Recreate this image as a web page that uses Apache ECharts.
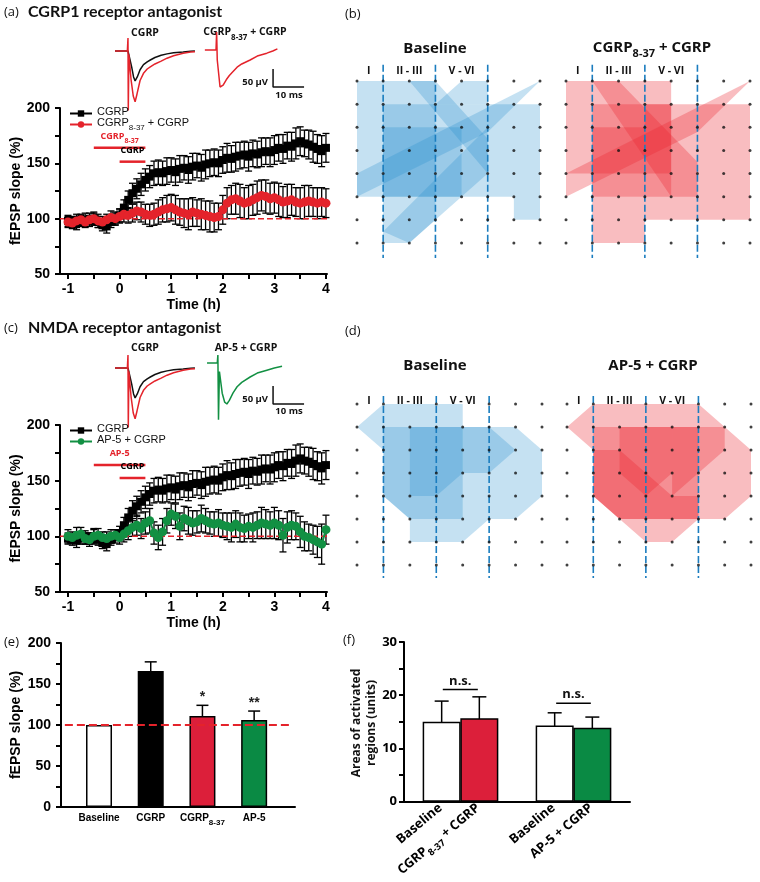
<!DOCTYPE html>
<html><head><meta charset="utf-8">
<script src="https://cdn.jsdelivr.net/npm/echarts@6/dist/echarts.min.js"></script>
<style>html,body{margin:0;padding:0;background:#fff}#c{width:760px;height:882px}</style>
</head><body><div id="c"></div>
<script>
// ---------------- DATA ----------------
const timeMin = [-60,-55,-50,-45,-40,-35,-30,-25,-20,-15,-10,-5,0,5,10,15,20,25,30,35,40,45,50,55,60,65,70,75,80,85,90,95,100,105,110,115,120,125,130,135,140,145,150,155,160,165,170,175,180,185,190,195,200,205,210,215,220,225,230,235,240];
const cgrpMean = [98,97,96,98,99,98,100,97,94,93,97,100,
  103,110,117,123,127,131,135,138,141,142,141,143,
  144,142,145,146,144,147,148,146,149,150,151,150,
  153,155,154,156,157,158,156,159,158,160,161,160,
  162,164,163,166,165,168,170,168,167,165,163,161,
  164];
const cgrpSem = [5,5,6,5,6,5,6,5,5,6,5,6,
  6,7,8,9,9,10,10,10,11,11,11,12,
  11,12,12,11,12,12,11,12,13,12,12,12,
  12,13,12,13,12,12,13,12,12,13,12,13,
  13,12,13,12,13,14,13,12,13,14,13,14,
  13];
const cgrp837Mean = [97,96,98,99,97,99,100,98,97,99,101,100,
  102,104,103,105,107,106,104,103,104,106,108,109,
  110,108,106,105,104,106,105,104,103,102,101,102,
  108,114,117,118,116,114,115,117,119,121,120,118,
  119,117,115,116,117,115,114,115,116,115,114,115,
  114];
const cgrp837Sem = [5,5,6,5,5,6,5,6,5,5,6,5,
  6,7,7,8,8,9,9,10,10,11,11,12,
  12,13,12,13,14,13,12,14,13,14,13,12,
  13,14,13,14,15,14,15,14,15,14,15,14,
  14,15,14,15,14,13,14,15,14,13,14,13,
  13];
const ap5Mean = [100,99,101,102,98,97,100,101,99,98,100,101,
  99,102,105,108,110,107,112,114,103,99,104,114,
  120,118,109,116,114,112,113,116,114,112,111,112,
  110,109,108,111,108,107,109,108,110,112,111,110,
  112,110,101,108,110,109,104,100,99,97,95,93,
  106];
const ap5Sem = [6,5,7,6,5,6,7,6,5,6,6,5,
  6,7,8,8,9,9,10,11,10,11,12,11,
  10,11,12,11,12,11,10,12,11,10,11,12,
  11,12,13,12,13,12,11,13,12,14,13,12,
  14,13,15,14,13,12,14,13,12,13,14,18,
  13];
const xTickValues = [-1,-0.5,0,0.5,1,1.5,2,2.5,3,3.5,4];
const xLabelValues = [-1,0,1,2,3,4];
const refLevel = [[-1.155,100],[4.05,100]];
// drug application bars: [start h, end h, level %]
const appBarsA = [[-0.5,0.5,164],[0,0.5,151.5]];
const appLabelsA = ['CGRP8-37','CGRP'];
const appBarsC = [[-0.5,0.5,164],[0,0.5,152.4]];
const appLabelsC = ['AP-5','CGRP'];

// EPSP traces: [ms, µV]
const traceCgrpBlack = [[1.6,0],[5.8,0],[6.3,-5],[7.0,-45],[7.6,-72],[8.1,-83],[8.8,-72],[9.7,-52],[10.8,-38],[12,-30],[13,-25],[14.5,-18],[16.5,-12],[18.4,-8],[20.5,-5],[23.6,-3],[26,-1],[27.4,0]];
const traceCgrpRed = [[1.6,0],[5.6,0],[5.8,36],[5.9,-165],[6.1,-10],[6.8,-80],[7.5,-125],[8.1,-141],[8.7,-120],[9.7,-82],[10.8,-62],[12,-50],[13,-44],[14.5,-36],[16.5,-28],[18.4,-20],[20.5,-13],[23.6,-6],[26,-3],[27.4,-2]];
const traceCgrp837 = [[30.6,3],[34.2,3],[34.4,53],[34.6,-25],[34.9,-20],[35.5,-100],[36.5,-95],[37.5,-80],[38.5,-68],[39.7,-57],[41,-45],[42.5,-36],[45.2,-25],[47.5,-14],[50.6,-6],[52.5,0],[54,6]];
const traceAp5 = [[31.3,14],[34.6,14],[34.8,36],[35.0,-144],[35.3,-10],[36.2,-70],[37,-95],[37.7,-100],[38.5,-90],[39.7,-69],[41,-52],[42.5,-40],[45.2,-25],[47.5,-14],[50.6,-6],[53,0],[55.5,5]];
const scaleBar = [[52.6,-50],[52.6,-100],[62.6,-100]];

// activation maps: electrode grid and activated regions [col,row]
const electrodeCols = [0,1,2,3,4,5,6,7];
const electrodeRows = [0,1,2,3,4,5,6,7];
const layerBorders = [1,3,5];
const layerNames = [[0.45,'I'],[2,'II - III'],[4,'V - VI']];
const mapBBaseline = [
  [[0,0],[3,0],[3,5],[0,5]],
  [[1,1],[5,1],[5,5],[1,5]],
  [[1,2],[4,2],[4,5],[1,5]],
  [[5,1],[7,1],[7,6],[6,6],[6,5],[5,5]],
  [[1,5],[3,5],[3,6],[2,7],[1,7]],
  [[0,4],[7,0],[5,2.2],[0,5]],
  [[1,6.5],[5,2],[5,4],[2,7]],
  [[2,0],[3,0],[5,2.5],[5,4]],
  [[3,1],[4,0],[5,0],[5,1]]
];
const mapBCgrp837 = [
  [[0,0],[4,0],[4,4],[0,4]],
  [[3,1],[7,1],[7,6],[3,6]],
  [[1,1],[4,1],[4,5],[1,5]],
  [[1,2],[3,2],[3,5],[1,5]],
  [[1,5],[3,5],[3,7],[1,7]],
  [[0,4],[7,0],[5,2.2],[0,5]],
  [[1,0],[2,0],[5,3.5],[5,5],[4,5]]
];
const mapDBaseline = [
  [[0,1],[1,0],[4,0],[4,5],[2,5],[1,4],[1,2]],
  [[1,1],[4,1],[4,5],[2,5],[1,4]],
  [[2,1],[4,1],[4,3],[3,4],[2,4]],
  [[4,1],[6,1],[7,2],[7,4],[6,5],[4,5]],
  [[4,1],[5,1],[6,2],[5,3],[4,3]],
  [[2,5],[5,5],[4,6],[2,6]]
];
const mapDAp5 = [
  [[0,1],[1,0],[5,0],[7,2],[7,4],[6,5],[5,5],[4,6],[3,6],[1,4],[1,2]],
  [[1,1],[5,1],[5,5],[2,5],[1,4]],
  [[2,1],[4,1],[4,3],[3,4],[2,3]],
  [[4,1],[6,1],[6,2],[4,4]],
  [[1,2],[2,2],[4,4],[5,4],[5,5],[2,5],[1,4]]
];

// panel e
const eCats = ['Baseline','CGRP','CGRP8-37','AP-5'];
const eMeans = [100,166,111,106];
const eSem = [0,11,13,11];
const eStars = ['','','*','**'];
// panel f
const fCats = ['Baseline','CGRP8-37 + CGRP','Baseline','AP-5 + CGRP'];
const fPos = [0,1,3,4];
const fMeans = [15.0,15.7,14.3,13.9];
const fSem = [3.9,4.0,2.4,2.0];
const fNs = [[0.03,0.96,21.1],[3.04,3.96,18.5]];

// ---------------- STYLE ----------------
const NUM = '"Liberation Sans", Arial, sans-serif';
const OS = '"Open Sans", sans-serif';
const RED = '#e4232b', GREEN = '#129043', BLK = '#000';
const BAR_COL = ['#ffffff','#000000','#dc1f3a','#0a8a44'];
const F_COL = ['#ffffff','#dc1f3a','#ffffff','#0a8a44'];
const BLUE_FILL = 'rgba(30,140,205,0.26)';
const RED_FILL = 'rgba(235,35,45,0.30)';

function subRich(base, sub, weight, family, color) {
  return {t:{fontSize:base, fontWeight:weight, fontFamily:family, color:color, fill:color, lineHeight:base+4, verticalAlign:'top'},
          s:{fontSize:sub, fontWeight:weight, fontFamily:family, color:color, fill:color, lineHeight:sub, verticalAlign:'bottom'}};
}
function subText(name) {
  if (name.indexOf('CGRP8-37') === 0) return '{t|CGRP}{s|8-37}' + (name.length > 8 ? '{t|' + name.slice(8) + '}' : '');
  return '{t|' + name + '}';
}

const grids = [
  {left:60, top:108, width:267, height:166},
  {left:110, top:30, width:201.5, height:100},
  {left:60, top:425, width:267, height:167},
  {left:110, top:347, width:201.5, height:100},
  {left:357, top:81, width:183, height:162},
  {left:566, top:81, width:184, height:162},
  {left:357, top:404, width:185, height:161},
  {left:567, top:404, width:184, height:161},
  {left:61, top:643, width:234, height:164},
  {left:404, top:642, width:226, height:162}
];

const axLine = {show:true, onZero:false, lineStyle:{color:BLK, width:2}};
function tsX(gi){ return {gridIndex:gi, type:'value', min:-1.155, max:4.02, axisLine:axLine,
  axisTick:{show:true, inside:false, length:5, customValues:xTickValues, lineStyle:{color:BLK,width:2}},
  axisLabel:{customValues:xLabelValues, color:BLK, fontFamily:NUM, fontWeight:'bold', fontSize:14, margin:8},
  splitLine:{show:false}, name:'Time (h)', nameLocation:'middle', nameGap:24,
  nameTextStyle:{color:BLK, fontFamily:NUM, fontWeight:'bold', fontSize:14, verticalAlign:'top'}}; }
function tsY(gi){ return {gridIndex:gi, type:'value', min:50, max:200, interval:25, axisLine:axLine,
  axisTick:{show:true, length:5, lineStyle:{color:BLK,width:2}},
  axisLabel:{formatter:v=> v%50===0 ? String(v) : '', color:BLK, fontFamily:NUM, fontWeight:'bold', fontSize:14, margin:10},
  splitLine:{show:false}, name:'fEPSP slope (%)', nameLocation:'middle', nameGap:36,
  nameTextStyle:{color:BLK, fontFamily:NUM, fontWeight:'bold', fontSize:14}}; }
function hidX(gi,min,max){ return {gridIndex:gi, type:'value', min:min, max:max, show:false}; }
function hidY(gi,min,max,inv){ return {gridIndex:gi, type:'value', min:min, max:max, show:false, inverse:!!inv}; }

const xAxes = [tsX(0), hidX(1,0,65), tsX(2), hidX(3,0,65), hidX(4,0,7), hidX(5,0,7), hidX(6,0,7), hidX(7,0,7),
  {gridIndex:8, type:'value', min:-0.735, max:3.79, axisLine:axLine, axisTick:{show:false}, splitLine:{show:false},
   axisLabel:{customValues:[0,1,2,3], margin:6, formatter:v=>subText(eCats[Math.round(v)]), rich:subRich(10,8,'bold',NUM,BLK)}},
  {gridIndex:9, type:'value', min:-1, max:5, axisLine:axLine, axisTick:{show:false}, splitLine:{show:false},
   axisLabel:{customValues:fPos, rotate:40, margin:6, formatter:v=>subText(fCats[fPos.indexOf(Math.round(v))]), rich:subRich(13,9.5,'bold',OS,BLK)}}
];
const yAxes = [tsY(0), hidY(1,-219.44,58.33), tsY(2), hidY(3,-219.44,58.33), hidY(4,0,7,true), hidY(5,0,7,true), hidY(6,0,7,true), hidY(7,0,7,true),
  {gridIndex:8, type:'value', min:0, max:200, interval:25, axisLine:axLine,
   axisTick:{show:true, length:5, lineStyle:{color:BLK,width:2}}, splitLine:{show:false},
   axisLabel:{formatter:v=> v%50===0 ? String(v) : '', color:BLK, fontFamily:NUM, fontWeight:'bold', fontSize:14, margin:10},
   name:'fEPSP slope (%)', nameLocation:'middle', nameGap:38, nameTextStyle:{color:BLK, fontFamily:NUM, fontWeight:'bold', fontSize:14}},
  {gridIndex:9, type:'value', min:0, max:30, interval:5, axisLine:axLine,
   axisTick:{show:true, length:5, lineStyle:{color:BLK,width:2}}, splitLine:{show:false},
   axisLabel:{formatter:v=> v%10===0 ? String(v) : '', color:BLK, fontFamily:OS, fontWeight:'bold', fontSize:13, margin:7}}
];

function errRender(capW, lw){
  return function(params, api){
    const x = api.value(0), y = api.value(1), e = api.value(2);
    const a = api.coord([x, y+e]), b = api.coord([x, y-e]);
    const h = capW/2, st = {stroke:BLK, lineWidth:lw};
    return {type:'group', children:[
      {type:'line', shape:{x1:a[0],y1:a[1],x2:b[0],y2:b[1]}, style:st},
      {type:'line', shape:{x1:a[0]-h,y1:a[1],x2:a[0]+h,y2:a[1]}, style:st},
      {type:'line', shape:{x1:b[0]-h,y1:b[1],x2:b[0]+h,y2:b[1]}, style:st}]};
  };
}
function tsPairs(mean){ return timeMin.map((m,i)=>[m/60, mean[i]]); }
function tsErr(mean, sem){ return timeMin.map((m,i)=>[m/60, mean[i], sem[i]]); }

function appSeries(gi, bars, labels){
  return {type:'custom', xAxisIndex:gi, yAxisIndex:gi, silent:true, encode:{x:[0,1], y:2},
    data:bars,
    renderItem:(params, api)=>{
      const s = api.coord([api.value(0), api.value(2)]), e = api.coord([api.value(1), api.value(2)]);
      const lab = labels[params.dataIndex];
      const col = params.dataIndex === 0 ? RED : BLK;
      return {type:'group', children:[
        {type:'line', shape:{x1:s[0],y1:s[1],x2:e[0],y2:e[1]}, style:{stroke:RED, lineWidth:2.5}},
        {type:'text', style:{x:(s[0]+e[0])/2, y:s[1]-3, text:subText(lab), align:'center', verticalAlign:'bottom',
          fill:col, rich:subRich(9,7,'bold',OS,col)}}]};
    }};
}

function tsBlock(gi, redName, redMean, redSem, redColor, apps, appLabels){
  return [
    {type:'line', xAxisIndex:gi, yAxisIndex:gi, data:refLevel, symbol:'none', silent:true,
     lineStyle:{color:RED, width:1.5, type:[6,3]}},
    {type:'custom', xAxisIndex:gi, yAxisIndex:gi, silent:true, encode:{x:0,y:1}, data:tsErr(cgrpMean,cgrpSem), renderItem:errRender(7,1.3)},
    {type:'line', name:'CGRP', xAxisIndex:gi, yAxisIndex:gi, data:tsPairs(cgrpMean), symbol:'rect', symbolSize:8,
     itemStyle:{color:BLK}, lineStyle:{color:BLK, width:1.5}},
    {type:'custom', xAxisIndex:gi, yAxisIndex:gi, silent:true, encode:{x:0,y:1}, data:tsErr(redMean,redSem), renderItem:errRender(7,1.3)},
    {type:'line', name:redName, xAxisIndex:gi, yAxisIndex:gi, data:tsPairs(redMean), symbol:'circle', symbolSize:9,
     itemStyle:{color:redColor}, lineStyle:{color:redColor, width:2}},
    appSeries(gi, apps, appLabels)
  ];
}

function traceLine(gi, data, color){
  return {type:'line', xAxisIndex:gi, yAxisIndex:gi, data:data, symbol:'none', silent:true,
    lineStyle:{color:color, width:1.5}};
}

function mapBlock(gi, polys, fill, labelRow, dashTop, dashBot){
  // electrodes hidden behind the layer names are not drawn
  const covered = (c, r) => labelRow > -0.3 && r === 0 && layerNames.some(l => l[0] === c);
  const dots = electrodeRows.flatMap(r => electrodeCols.filter(c => !covered(c, r)).map(c => [c, r]));
  return [
    {type:'custom', xAxisIndex:gi, yAxisIndex:gi, silent:true, data:polys.map(p=>p[0]),
     renderItem:(params, api)=>({type:'polygon', shape:{points:polys[params.dataIndex].map(pt=>api.coord(pt))}, style:{fill:fill}})},
    {type:'scatter', xAxisIndex:gi, yAxisIndex:gi, silent:true, data:dots, symbolSize:3, itemStyle:{color:'#111'}},
    {type:'custom', xAxisIndex:gi, yAxisIndex:gi, silent:true, data:layerBorders.map(c=>[c, dashTop]),
     renderItem:(params, api)=>{
       const a = api.coord([api.value(0), dashTop]), b = api.coord([api.value(0), dashBot]);
       return {type:'line', shape:{x1:a[0],y1:a[1],x2:b[0],y2:b[1]}, style:{stroke:'#1b7dbf', lineWidth:1.6, lineDash:[7,3]}};
     }},
    {type:'custom', xAxisIndex:gi, yAxisIndex:gi, silent:true, data:layerNames.map(l=>[l[0], labelRow]),
     renderItem:(params, api)=>{
       const p = api.coord([api.value(0), labelRow]);
       return {type:'text', style:{x:p[0], y:p[1], text:layerNames[params.dataIndex][1], align:'center', verticalAlign:'middle',
         font:'bold 10.5px "Open Sans"', fill:'#111'}};
     }}
  ];
}

const series = [].concat(
  tsBlock(0, 'CGRP8-37 + CGRP', cgrp837Mean, cgrp837Sem, RED, appBarsA, appLabelsA),
  [traceLine(1, traceCgrpBlack, '#111'), traceLine(1, traceCgrpRed, RED), traceLine(1, traceCgrp837, RED), traceLine(1, scaleBar, '#111')],
  tsBlock(2, 'AP-5 + CGRP', ap5Mean, ap5Sem, GREEN, appBarsC, appLabelsC),
  [traceLine(3, traceCgrpBlack, '#111'), traceLine(3, traceCgrpRed, RED), traceLine(3, traceAp5, GREEN), traceLine(3, scaleBar, '#111')],
  mapBlock(4, mapBBaseline, BLUE_FILL, -0.45, -0.7, 7.65),
  mapBlock(5, mapBCgrp837, RED_FILL, -0.45, -0.7, 7.65),
  mapBlock(6, mapDBaseline, BLUE_FILL, -0.13, -0.35, 7.57),
  mapBlock(7, mapDAp5, RED_FILL, -0.13, -0.35, 7.57),
  [
    {type:'line', xAxisIndex:8, yAxisIndex:8, data:[[-0.66,100],[3.73,100]], symbol:'none', silent:true,
     lineStyle:{color:RED, width:2, type:[8,4]}},
    {type:'bar', xAxisIndex:8, yAxisIndex:8, barWidth:26, silent:true,
     data:eMeans.map((v,i)=>({value:[i,v], itemStyle:{color:BAR_COL[i], borderColor:BLK, borderWidth:1.5}}))},
    {type:'custom', xAxisIndex:8, yAxisIndex:8, silent:true, encode:{x:0,y:1},
     data:eMeans.map((v,i)=>[i,v,eSem[i]]).filter(d=>d[2]>0), renderItem:errRender(12,1.5)},
    {type:'custom', xAxisIndex:8, yAxisIndex:8, silent:true, encode:{x:0,y:1},
     data:eMeans.map((v,i)=>[i, v+eSem[i]]),
     renderItem:(params, api)=>{
       const p = api.coord([api.value(0), api.value(1)]);
       return {type:'text', style:{x:p[0], y:p[1]-1, text:eStars[params.dataIndex], align:'center', verticalAlign:'bottom',
         font:'bold 14px "Liberation Sans"', fill:'#222'}};
     }},
    {type:'bar', xAxisIndex:9, yAxisIndex:9, barWidth:38, silent:true,
     data:fMeans.map((v,i)=>({value:[fPos[i],v], itemStyle:{color:F_COL[i], borderColor:BLK, borderWidth:1.5}}))},
    {type:'custom', xAxisIndex:9, yAxisIndex:9, silent:true, encode:{x:0,y:1},
     data:fMeans.map((v,i)=>[fPos[i],v,fSem[i]]), renderItem:errRender(14,1.5)},
    {type:'custom', xAxisIndex:9, yAxisIndex:9, silent:true, encode:{x:[0,1],y:2}, data:fNs,
     renderItem:(params, api)=>{
       const a = api.coord([api.value(0), api.value(2)]), b = api.coord([api.value(1), api.value(2)]);
       return {type:'group', children:[
         {type:'line', shape:{x1:a[0],y1:a[1],x2:b[0],y2:b[1]}, style:{stroke:BLK, lineWidth:1.5}},
         {type:'text', style:{x:(a[0]+b[0])/2, y:a[1]-2, text:'n.s.', align:'center', verticalAlign:'bottom',
           font:'bold 13px "Open Sans"', fill:'#111'}}]};
     }}
  ]
);

function txt(x, y, text, font, opts){
  return Object.assign({type:'text', x:x, y:y, silent:true,
    style:Object.assign({text:text, font:font, fill:'#111', align:'left', verticalAlign:'middle'}, (opts||{}))});
}
const graphics = [
  txt(4, 12, '(a)', '13px "Open Sans"'),
  txt(28, 12, 'CGRP1 receptor antagonist', 'bold 16px Lato'),
  txt(4, 328, '(c)', '13px "Open Sans"'),
  txt(28, 328, 'NMDA receptor antagonist', 'bold 16px Lato'),
  txt(345, 14, '(b)', '13px "Open Sans"'),
  txt(345, 331, '(d)', '13px "Open Sans"'),
  txt(4, 642, '(e)', '13px "Open Sans"'),
  txt(343, 640, '(f)', '13px "Open Sans"'),
  txt(435, 49, 'Baseline', 'bold 15px "Open Sans"', {align:'center'}),
  txt(652, 50, '{t|CGRP}{s|8-37}{t| + CGRP}', '', {align:'center', rich:subRich(15,11,'bold',OS,'#111')}),
  txt(435, 366, 'Baseline', 'bold 15px "Open Sans"', {align:'center'}),
  txt(653, 366, 'AP-5 + CGRP', 'bold 15px "Open Sans"', {align:'center'}),
  txt(145, 33, 'CGRP', 'bold 10.5px "Open Sans"', {align:'center'}),
  txt(245, 34, '{t|CGRP}{s|8-37}{t| + CGRP}', '', {align:'center', rich:subRich(10.5,8,'bold',OS,'#111')}),
  txt(145, 348, 'CGRP', 'bold 10.5px "Open Sans"', {align:'center'}),
  txt(246, 348, 'AP-5 + CGRP', 'bold 10.5px "Open Sans"', {align:'center'}),
  txt(268, 82, '50 µV', 'bold 9.5px "Open Sans"', {align:'right'}),
  txt(289, 95, '10 ms', 'bold 9.5px "Open Sans"', {align:'center'}),
  txt(268, 399, '50 µV', 'bold 9.5px "Open Sans"', {align:'right'}),
  txt(289, 411, '10 ms', 'bold 9.5px "Open Sans"', {align:'center'}),
  {type:'text', x:364, y:723, rotation:Math.PI/2, silent:true,
   style:{text:'Areas of activated\nregions (units)', font:'bold 12px "Open Sans"', fill:'#111', align:'center', verticalAlign:'middle', lineHeight:15}}
];

function legendCfg(top, names){
  return {top:top, left:64, orient:'vertical', itemWidth:22, itemHeight:8, itemGap:0, selectedMode:false,
    data:names, formatter:n=>subText(n), textStyle:{rich:subRich(11,8,'normal',NUM,'#111')}};
}

const chart = echarts.init(document.getElementById('c'));
chart.setOption({
  animation:false,
  backgroundColor:'#fff',
  grid:grids,
  xAxis:xAxes,
  yAxis:yAxes,
  legend:[legendCfg(101, ['CGRP','CGRP8-37 + CGRP']), legendCfg(418, ['CGRP','AP-5 + CGRP'])],
  series:series,
  graphic:graphics
});
</script></body></html>
